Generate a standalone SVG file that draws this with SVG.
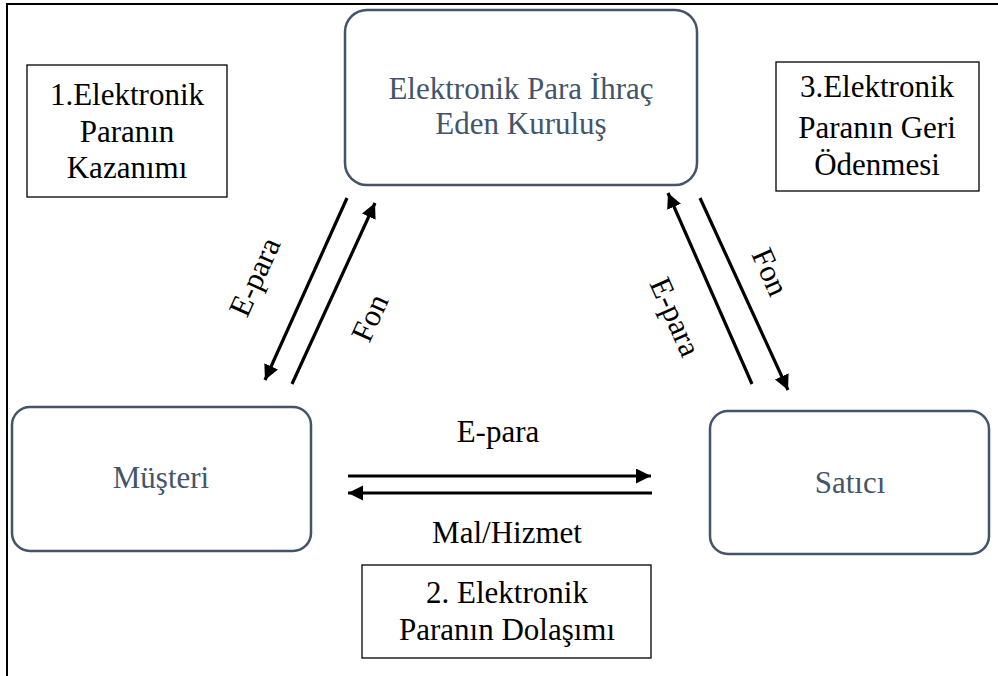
<svg xmlns="http://www.w3.org/2000/svg" width="998" height="676" viewBox="0 0 998 676">
  <style>
    .node rect { fill: #ffffff; stroke: #44546A; stroke-width: 2.5; }
    .node text { fill: #44546A; font-family: "Liberation Serif", "Times New Roman", serif; font-size: 31px; text-anchor: middle; }
    .note rect { fill: #ffffff; stroke: #000000; stroke-width: 1.3; }
    .note text, .label { fill: #000000; font-family: "Liberation Serif", "Times New Roman", serif; font-size: 31px; text-anchor: middle; }
    .conn line { stroke: #000000; stroke-width: 3.2; marker-end: url(#head); }
    .frame { stroke: #000000; stroke-width: 2; fill: none; }
  </style>
  <defs>
    <marker id="head" markerUnits="userSpaceOnUse" markerWidth="16" markerHeight="16" refX="15" refY="7.5" orient="auto">
      <path d="M0,0 L15,7.5 L0,15 Z" fill="#000000"/>
    </marker>
  </defs>

  <rect width="998" height="676" fill="#ffffff"/>
  <!-- page frame (left and top edges) -->
  <path class="frame" d="M7,676 L7,4 L998,4"/>

  <!-- main actors -->
  <g id="issuer" class="node">
    <rect x="345" y="10" width="352" height="175" rx="22"/>
    <text x="521" y="99">Elektronik Para İhraç</text>
    <text x="521" y="134">Eden Kuruluş</text>
  </g>
  <g id="customer" class="node">
    <rect x="12" y="407" width="299" height="144" rx="18"/>
    <text x="161" y="488">Müşteri</text>
  </g>
  <g id="seller" class="node">
    <rect x="710" y="411" width="279" height="143" rx="18"/>
    <text x="850" y="493">Satıcı</text>
  </g>

  <!-- stage notes -->
  <g id="stage1" class="note">
    <rect x="27" y="65" width="200" height="132"/>
    <text x="127" y="105">1.Elektronik</text>
    <text x="127" y="142">Paranın</text>
    <text x="127" y="178">Kazanımı</text>
  </g>
  <g id="stage2" class="note">
    <rect x="362" y="565" width="289" height="93"/>
    <text x="507" y="603">2. Elektronik</text>
    <text x="507" y="640">Paranın Dolaşımı</text>
  </g>
  <g id="stage3" class="note">
    <rect x="776" y="62" width="203" height="129"/>
    <text x="877" y="97">3.Elektronik</text>
    <text x="877" y="138">Paranın Geri</text>
    <text x="877" y="175">Ödenmesi</text>
  </g>

  <!-- flows -->
  <g id="connectors" class="conn">
    <line x1="347" y1="198" x2="265" y2="380"/>
    <line x1="292" y1="384" x2="375" y2="203"/>
    <line x1="752" y1="384" x2="668" y2="193"/>
    <line x1="700" y1="198" x2="788" y2="390"/>
    <line x1="348" y1="476" x2="651" y2="476"/>
    <line x1="652" y1="493" x2="348" y2="493"/>
  </g>

  <!-- flow labels -->
  <g id="flow-labels">
    <text class="label" transform="translate(255,277) rotate(-65.7)" y="10">E-para</text>
    <text class="label" transform="translate(370,318) rotate(-65.7)" y="10">Fon</text>
    <text class="label" transform="translate(770,272) rotate(66)" y="10">Fon</text>
    <text class="label" transform="translate(675,317) rotate(66)" y="10">E-para</text>
    <text class="label" x="498" y="442">E-para</text>
    <text class="label" x="507" y="543">Mal/Hizmet</text>
  </g>
</svg>
